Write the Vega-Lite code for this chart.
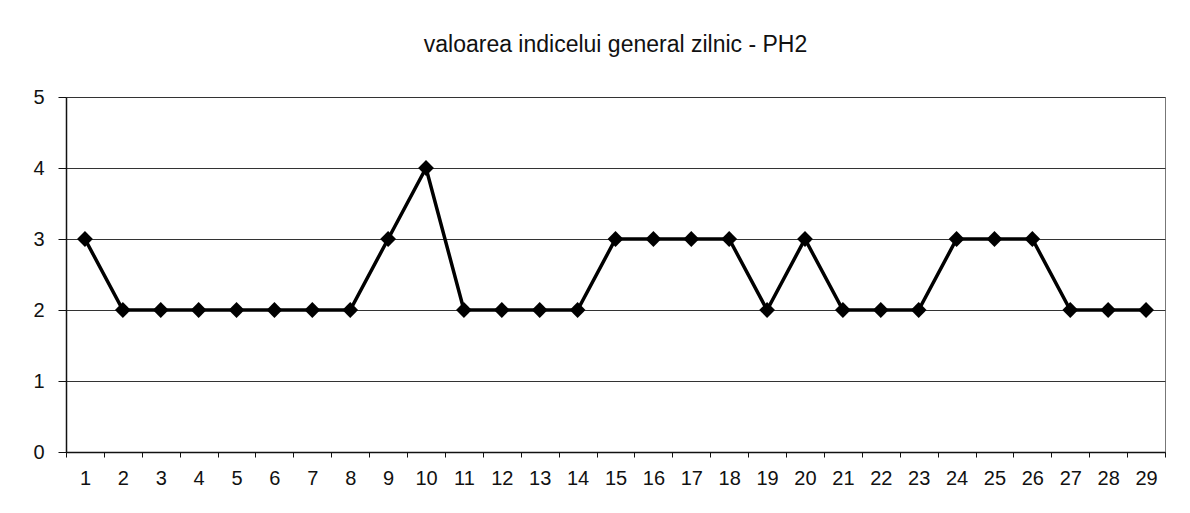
{
  "$schema": "https://vega.github.io/schema/vega-lite/v6.json",
  "autosize": "none",
  "width": 1099,
  "height": 355,
  "padding": {"left": 66, "top": 97, "right": 25, "bottom": 61},
  "background": "white",
  "title": {
    "text": "valoarea indicelui general zilnic - PH2",
    "font": "Liberation Sans",
    "fontSize": 23,
    "fontWeight": "normal",
    "color": "#111",
    "offset": 30,
    "anchor": "middle"
  },
  "config": {
    "view": {"stroke": "#777", "strokeWidth": 1},
    "axis": {
      "labelFont": "Liberation Sans",
      "labelFontSize": 20,
      "labelColor": "#111",
      "domainColor": "#111",
      "tickColor": "#111",
      "title": null
    }
  },
  "data": {
    "values": [
      {"zi": 1, "v": 3}, {"zi": 2, "v": 2}, {"zi": 3, "v": 2}, {"zi": 4, "v": 2},
      {"zi": 5, "v": 2}, {"zi": 6, "v": 2}, {"zi": 7, "v": 2}, {"zi": 8, "v": 2},
      {"zi": 9, "v": 3}, {"zi": 10, "v": 4}, {"zi": 11, "v": 2}, {"zi": 12, "v": 2},
      {"zi": 13, "v": 2}, {"zi": 14, "v": 2}, {"zi": 15, "v": 3}, {"zi": 16, "v": 3},
      {"zi": 17, "v": 3}, {"zi": 18, "v": 3}, {"zi": 19, "v": 2}, {"zi": 20, "v": 3},
      {"zi": 21, "v": 2}, {"zi": 22, "v": 2}, {"zi": 23, "v": 2}, {"zi": 24, "v": 3},
      {"zi": 25, "v": 3}, {"zi": 26, "v": 3}, {"zi": 27, "v": 2}, {"zi": 28, "v": 2},
      {"zi": 29, "v": 2}
    ]
  },
  "mark": {
    "type": "line",
    "color": "#000",
    "strokeWidth": 3.5,
    "point": {"shape": "diamond", "size": 250, "filled": true, "color": "#000"}
  },
  "encoding": {
    "x": {
      "field": "zi",
      "type": "ordinal",
      "scale": {"paddingInner": 0, "paddingOuter": 0},
      "axis": {
        "labelAngle": 0,
        "bandPosition": 0,
        "tickBand": "extent",
        "tickSize": 5,
        "labelPadding": 11,
        "domainWidth": 1.5,
        "grid": false
      }
    },
    "y": {
      "field": "v",
      "type": "quantitative",
      "scale": {"domain": [0, 5], "nice": false},
      "axis": {
        "values": [0, 1, 2, 3, 4, 5],
        "tickSize": 8,
        "labelPadding": 14,
        "grid": true,
        "gridColor": "#333",
        "gridWidth": 1,
        "domainWidth": 1.5
      }
    }
  }
}
